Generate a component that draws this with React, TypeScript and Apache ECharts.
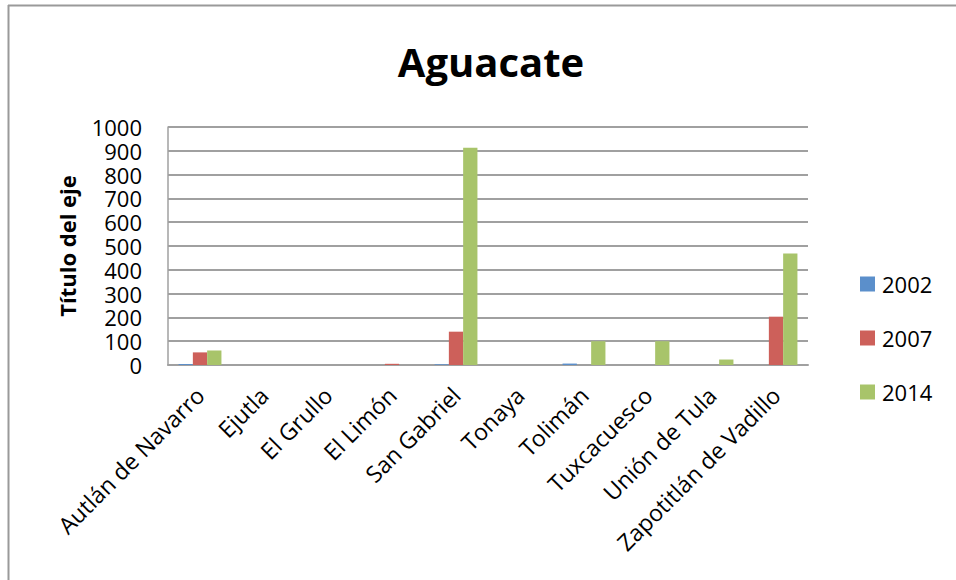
import React, { useEffect, useRef } from "react";
import * as echarts from "echarts";

const categories = [
  "Autlán de Navarro",
  "Ejutla",
  "El Grullo",
  "El Limón",
  "San Gabriel",
  "Tonaya",
  "Tolimán",
  "Tuxcacuesco",
  "Unión de Tula",
  "Zapotitlán de Vadillo",
];
const values2002 = [4, 0, 0, 0, 3, 0, 6, 0, 0, 0];
const values2007 = [53, 0, 0, 5, 140, 0, 0, 0, 0, 203];
const values2014 = [61, 0, 0, 0, 913, 0, 100, 100, 23, 469];
const seriesNames = ["2002", "2007", "2014"];
const colors = ["#5B8FCB", "#CD605A", "#A8C46A"];

const FONT = "'Open Sans', sans-serif";

export default function App() {
  const ref = useRef<HTMLDivElement>(null);
  useEffect(() => {
    if (!ref.current) return;
    const chart = echarts.init(ref.current, null, { renderer: "svg" });
    const data = [values2002, values2007, values2014];
    chart.setOption({
      animation: false,
      backgroundColor: "#ffffff",
      title: {
        text: "Aguacate",
        left: 486,
        top: 36,
        textAlign: "center",
        textStyle: { fontFamily: FONT, fontSize: 40, fontWeight: "bold", color: "#000" },
      },
      legend: {
        orient: "vertical",
        left: 855,
        top: 268,
        itemWidth: 15,
        itemHeight: 15,
        itemGap: 32,
        icon: "rect",
        data: seriesNames,
        textStyle: { fontFamily: FONT, fontSize: 22, color: "#000", lineHeight: 22, padding: [0, 0, 0, 2] },
      },
      grid: { left: 168, right: 148, top: 127, bottom: 215, containLabel: false },
      xAxis: {
        type: "category",
        data: categories,
        axisLine: { lineStyle: { color: "#A0A0A0", width: 2 } },
        axisTick: { show: false },
        axisLabel: {
          rotate: 45,
          interval: 0,
          margin: 26,
          fontFamily: FONT,
          fontSize: 23,
          lineHeight: 23,
          color: "#000",
        },
      },
      yAxis: {
        type: "value",
        min: 0,
        max: 1000,
        interval: 100,
        name: "Título del eje",
        nameLocation: "middle",
        nameGap: 90,
        nameRotate: 90,
        nameTextStyle: { fontFamily: FONT, fontSize: 22, fontWeight: "bold", color: "#000" },
        axisLine: { show: true, lineStyle: { color: "#A0A0A0", width: 1.5 } },
        axisTick: { show: false },
        splitLine: { lineStyle: { color: "#A0A0A0", width: 2 } },
        axisLabel: {
          fontFamily: FONT,
          fontSize: 22,
          lineHeight: 20,
          color: "#000",
          margin: 26,
          formatter: (v: number) => String(v),
        },
      },
      series: seriesNames.map((name, i) => ({
        name,
        type: "bar",
        data: data[i],
        barGap: "0%",
        barCategoryGap: "33%",
        itemStyle: { color: colors[i] },
      })),
      graphic: [
        { type: "line", shape: { x1: 8, y1: 5.5, x2: 956, y2: 5.5 }, style: { stroke: "#9A9A9A", lineWidth: 2 } },
        { type: "line", shape: { x1: 8.5, y1: 5, x2: 8.5, y2: 580 }, style: { stroke: "#9A9A9A", lineWidth: 2 } },
      ],
    });
    return () => chart.dispose();
  }, []);
  return (
    <div
      ref={ref}
      style={{ position: "fixed", left: 0, top: 0, width: 956, height: 580, background: "#fff" }}
    />
  );
}
